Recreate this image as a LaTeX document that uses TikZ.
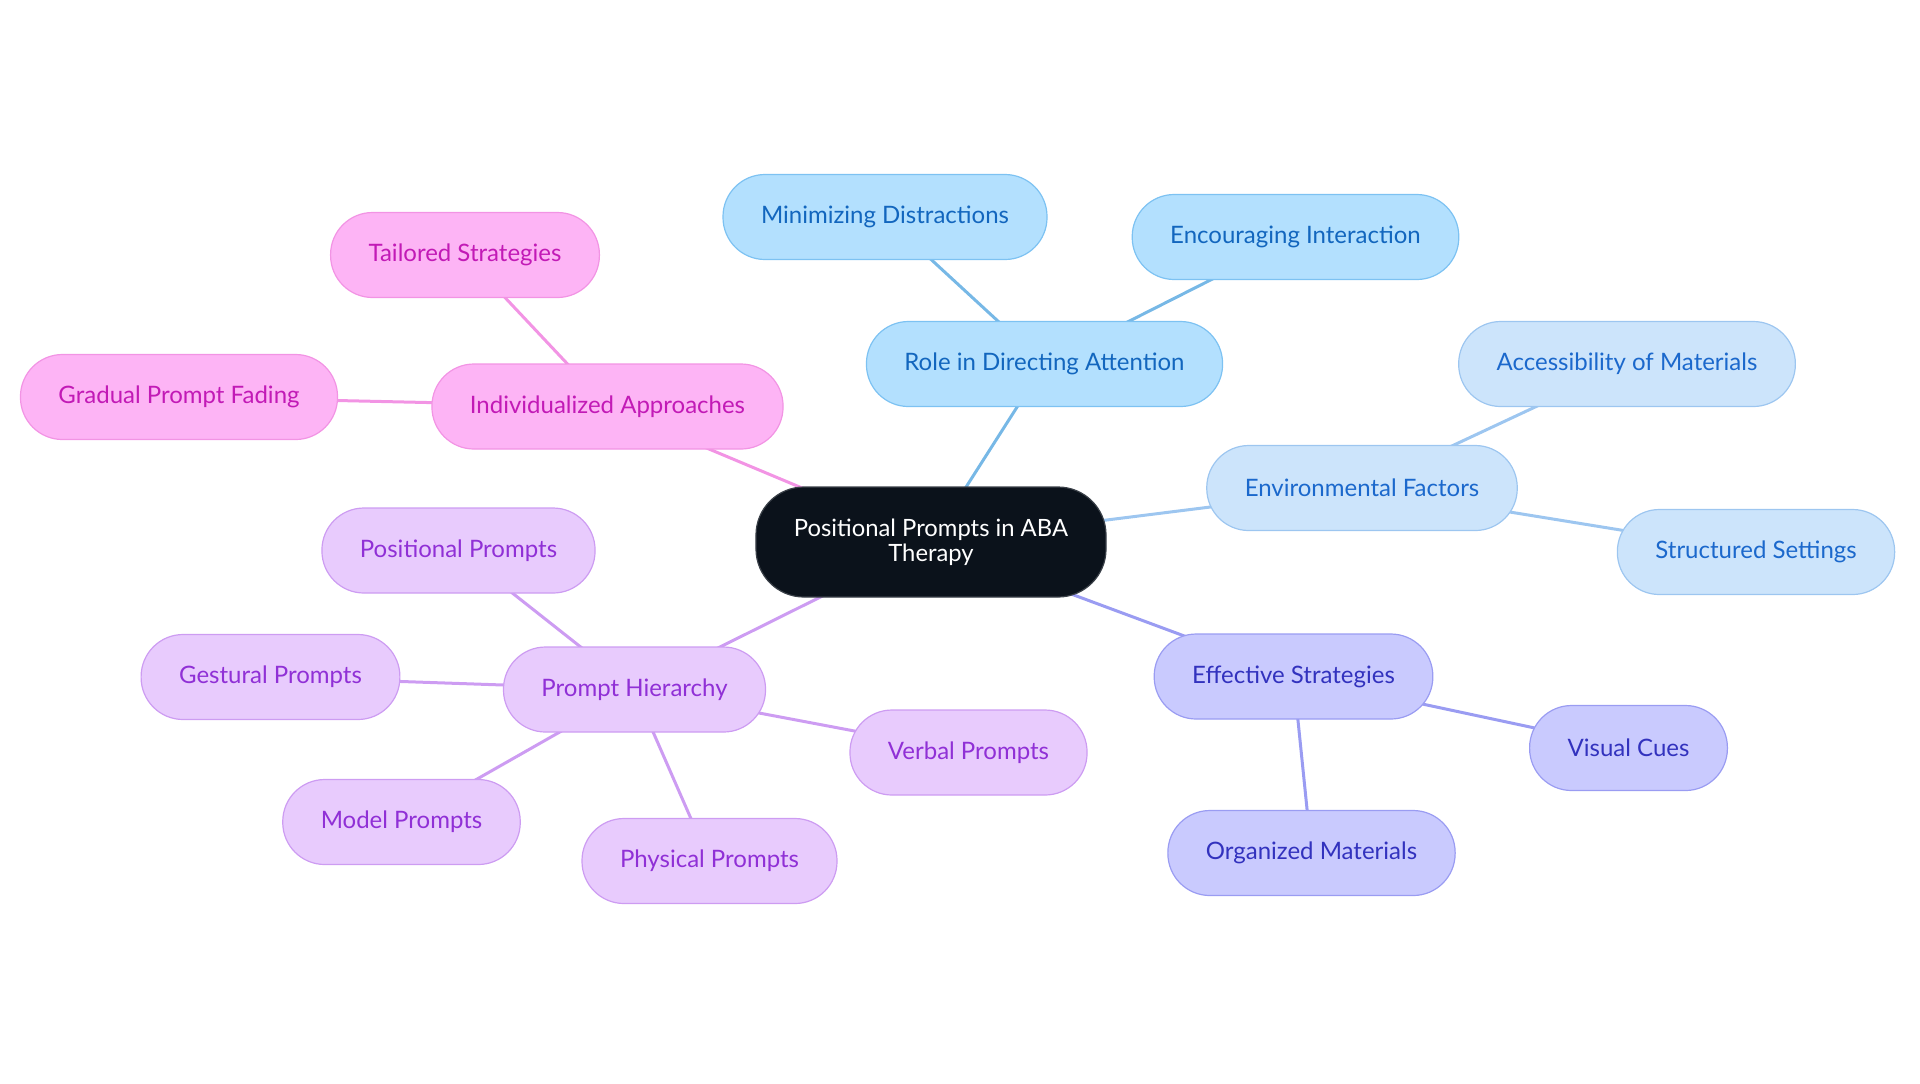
\documentclass[tikz,border=0pt]{standalone}
\usepackage{fontspec}
\setmainfont{Lato}
\usetikzlibrary{positioning,backgrounds}
\definecolor{rootfill}{HTML}{0B121B}
\definecolor{rootdraw}{HTML}{3A4048}
\definecolor{attnfill}{HTML}{B3E0FE}
\definecolor{attndraw}{HTML}{7DC2F2}
\definecolor{attntext}{HTML}{1266BE}
\definecolor{envfill}{HTML}{CCE4FB}
\definecolor{envdraw}{HTML}{9DC6F0}
\definecolor{envtext}{HTML}{1B68CC}
\definecolor{stratfill}{HTML}{C9CAFE}
\definecolor{stratdraw}{HTML}{9A9CF2}
\definecolor{strattext}{HTML}{3232BE}
\definecolor{hierfill}{HTML}{E8CBFD}
\definecolor{hierdraw}{HTML}{CD9CF2}
\definecolor{hiertext}{HTML}{9030D6}
\definecolor{indivfill}{HTML}{FDB4F5}
\definecolor{indivdraw}{HTML}{F294E4}
\definecolor{indivtext}{HTML}{C21AB6}
\tikzset{
topic/.style={rounded corners=21pt, minimum height=42.5pt, inner xsep=19pt, line width=0.6pt, font=\fontsize{12}{14}\selectfont}, % every box of the map
rootnode/.style={topic, fill=rootfill, draw=rootdraw, text=white, align=center, minimum width=174.5pt, minimum height=55pt, rounded corners=24pt, font=\fontsize{11.9}{12.5}\selectfont},
attn/.style={topic, fill=attnfill, draw=attndraw, text=attntext},
env/.style={topic, fill=envfill, draw=envdraw, text=envtext},
strat/.style={topic, fill=stratfill, draw=stratdraw, text=strattext},
hier/.style={topic, fill=hierfill, draw=hierdraw, text=hiertext},
indiv/.style={topic, fill=indivfill, draw=indivdraw, text=indivtext},
link/.style={line width=1.5pt}, % the connectors
}

\begin{document}
\begin{tikzpicture}[x=0.5pt, y=-0.5pt]
\useasboundingbox (0,0) rectangle (1920,1083);
\node[rootnode] (root) at (931,542) {Positional Prompts in ABA\\Therapy};

\node[attn] (role) at (1044.5,364) {Role in Directing Attention};
\node[attn] (minim) at (885,217) {Minimizing Distractions};
\node[attn] (encour) at (1295.5,237) {Encouraging Interaction};

\node[env] (envf) at (1362,488) {Environmental Factors};
\node[env] (access) at (1627,364) {Accessibility of Materials};
\node[env] (struct) at (1756,552) {Structured Settings};

\node[strat] (effect) at (1293.5,676.5) {Effective Strategies};
\node[strat] (visual) at (1628.5,748) {Visual Cues};
\node[strat] (organ) at (1311.5,853) {Organized Materials};

\node[hier] (hier) at (634.5,689.5) {Prompt Hierarchy};
\node[hier] (posit) at (458.5,550.5) {Positional Prompts};
\node[hier] (gest) at (270.5,677) {Gestural Prompts};
\node[hier] (model) at (401.5,822) {Model Prompts};
\node[hier] (phys) at (709.5,861) {Physical Prompts};
\node[hier] (verbal) at (968.5,752.5) {Verbal Prompts};

\node[indiv] (indiv) at (607.5,406.5) {Individualized Approaches};
\node[indiv] (tailor) at (465,255) {Tailored Strategies};
\node[indiv] (fading) at (179,397) {Gradual Prompt Fading};

\begin{scope}[on background layer]
\draw[link, attndraw!95!black]
(root.center) edge (role.center)
(role.center) edge (minim.center)
(role.center) edge (encour.center);
\draw[link, envdraw]
(root.center) edge (envf.center)
(envf.center) edge (access.center)
(envf.center) edge (struct.center);
\draw[link, stratdraw]
(root.center) edge (effect.center)
(effect.center) edge (visual.center)
(effect.center) edge (organ.center);
\draw[link, hierdraw]
(root.center) edge (hier.center)
(hier.center) edge (posit.center)
(hier.center) edge (gest.center)
(hier.center) edge (model.center)
(hier.center) edge (phys.center)
(hier.center) edge (verbal.center);
\draw[link, indivdraw]
(root.center) edge (indiv.center)
(indiv.center) edge (tailor.center)
(indiv.center) edge (fading.center);
\end{scope}
\end{tikzpicture}
\end{document}
